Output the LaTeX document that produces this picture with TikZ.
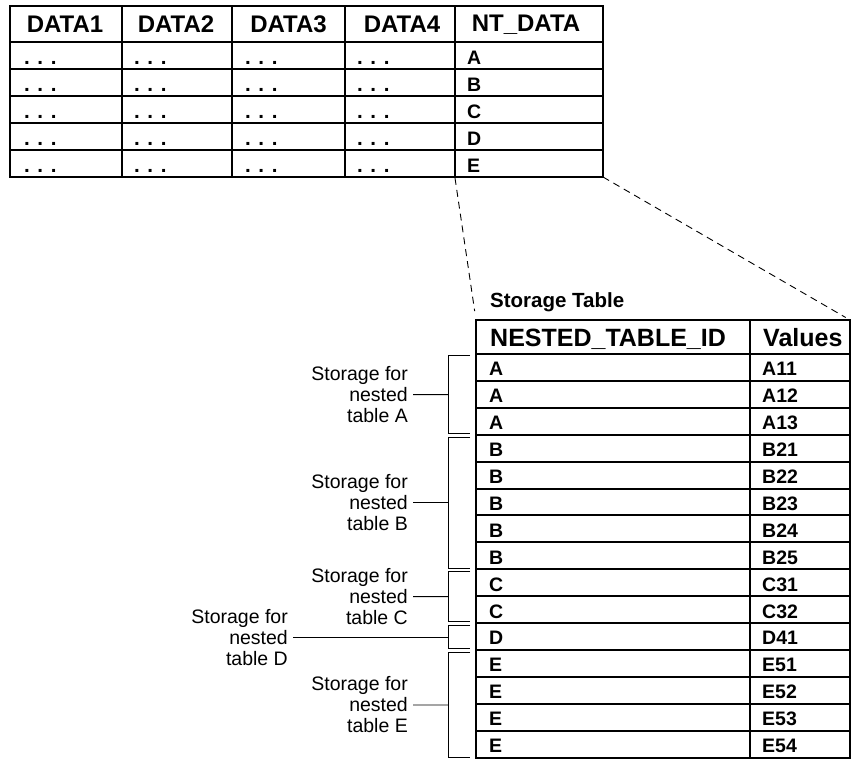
\documentclass[tikz,border=0pt]{standalone}
\usepackage{fontspec}
\setmainfont{Liberation Sans}
\begin{document}
\begin{tikzpicture}[x=1pt,y=-1pt,
  gridline/.style={line width=2pt, line cap=rect},
  hdr/.style={font=\fontsize{24}{28}\selectfont\bfseries, inner sep=0pt},
  shdr/.style={font=\fontsize{25}{28}\selectfont\bfseries, anchor=base west, inner sep=0pt},
  cell/.style={font=\fontsize{19.5}{22}\selectfont\bfseries, anchor=base west, inner sep=0pt},
  dots/.style={font=\fontsize{20.5}{22}\selectfont\bfseries, anchor=base west, inner sep=0pt},
  title/.style={font=\fontsize{20.5}{22}\selectfont\bfseries, anchor=base west, inner sep=0pt},
  lbl/.style={font=\fontsize{19.5}{21}\selectfont, align=right, anchor=east, inner sep=0pt},
  brk/.style={line width=0.9pt},
  zoomline/.style={dash pattern=on 7pt off 5pt, line width=0.9pt}]
\useasboundingbox (0,0) rectangle (854,759);

% ---------- top table ----------
\draw[gridline] (10,6) rectangle (603,177);
\foreach \x in {122,232,345,455} \draw[gridline] (\x,6) -- (\x,177);
\foreach \y in {42,69,96,123,150} \draw[gridline] (10,\y) -- (603,\y);

\node[hdr] (h1) at (65,24.5) {DATA1};
\node[hdr] (h2) at (176,24.5) {DATA2};
\node[hdr] (h3) at (288.5,24.5) {DATA3};
\node[hdr] (h4) at (402,24.5) {DATA4};
\node[hdr] (h5) at (526,24.5) {NT\_DATA};

\foreach \l [count=\r from 0] in {A,B,C,D,E} {
  \pgfmathsetmacro{\yb}{69+27*\r-4.5}
  \foreach \cx [count=\c] in {24,134,245,357}
    \node[dots] (d\r-\c) at (\cx,\yb) {. . .};
  \node[cell] (nt\r) at (467,\yb) {\l};
}

% ---------- storage table ----------
\node[title] (sttitle) at (490,308) {Storage Table};
\draw[gridline] (476,320) rectangle (850,757.5);
\draw[gridline] (750,320) -- (750,757.5);
\draw[gridline] (476,354) -- (850,354);
\foreach \k in {1,...,14} \draw[gridline] (476,354+26.9*\k) -- (850,354+26.9*\k);

\node[shdr] (sid) at (490,346) {NESTED\_TABLE\_ID};
\node[shdr] (sval) at (763,346) {Values};

\foreach \id/\val [count=\i from 0] in {A/A11,A/A12,A/A13,B/B21,B/B22,B/B23,B/B24,B/B25,C/C31,C/C32,D/D41,E/E51,E/E52,E/E53,E/E54} {
  \pgfmathsetmacro{\yb}{354+26.9*(\i+1)-5}
  \node[cell] (sid\i) at (489,\yb) {\id};
  \node[cell] (sv\i) at (762,\yb) {\val};
}

% ---------- zoom connectors ----------
\coordinate (topL) at (455,178);
\coordinate (topR) at (603,177);
\coordinate (stL) at (476,320);
\coordinate (stR) at (850,320);
\draw[zoomline, shorten >=9pt] (topL) -- (stL);
\draw[zoomline, shorten >=5pt] (topR) -- (stR);

% ---------- brackets ----------
\foreach \nm/\top/\bot in {A/355.5/433.7, B/437.2/568.2, C/571.7/621.6, D/625.5/648.9, E/652.4/757.5} {
  \draw[brk] (470,\top) -| (448,\bot) -- (470,\bot);
  \coordinate (b\nm) at (448,{(\top+\bot)/2});
}

\node[lbl] (lA) at (408,394.6) {Storage for\\nested\\table A};
\node[lbl] (lB) at (408,502.7) {Storage for\\nested\\table B};
\node[lbl] (lC) at (408,596.6) {Storage for\\nested\\table C};
\node[lbl] (lD) at (288,637.2) {Storage for\\nested\\table D};
\node[lbl] (lE) at (408,705) {Storage for\\nested\\table E};

\foreach \nm in {A,B,C,D,E}
  \draw[brk, shorten <=5pt] (l\nm.east) -- (b\nm);
\end{tikzpicture}
\end{document}
